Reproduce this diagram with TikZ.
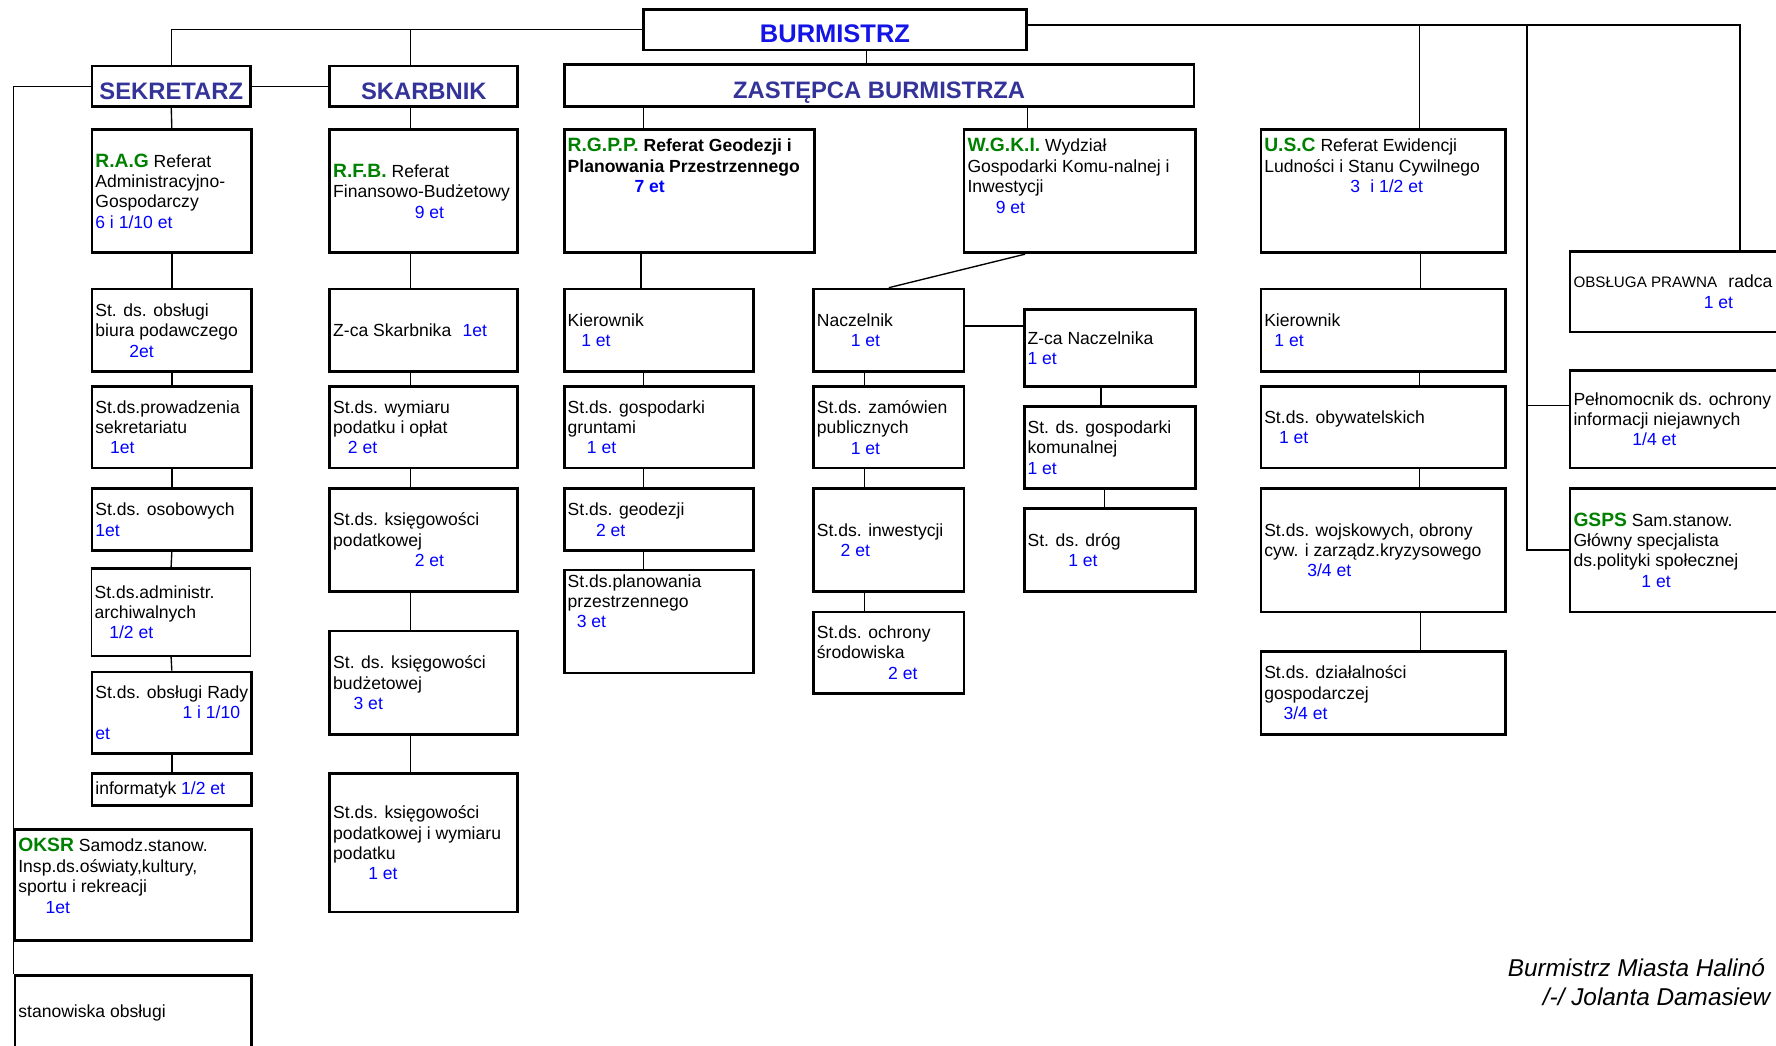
\documentclass[tikz,border=0pt]{standalone}
\usepackage{fontspec}
\setmainfont{Liberation Sans}
\usepackage{tikz}

\definecolor{etblue}{RGB}{0,0,255}
\definecolor{headblue}{RGB}{51,51,153}
\definecolor{burblue}{RGB}{20,20,230}
\definecolor{codegreen}{RGB}{0,128,0}

% box text: [valign]{width}{height}{text}, sizes in pt
\newcommand{\cell}[4][c]{\parbox[c][#3pt][#1]{\dimexpr #2pt-6pt\relax}{\raggedright #4}}
\newcommand{\code}[1]{{\fontsize{17}{18}\selectfont\bfseries\color{codegreen}#1}}
\newcommand{\et}[1]{\textcolor{etblue}{#1}}

\tikzstyle{head_box} = [
    draw=black,
    line width=2.4pt,
    anchor=north west,
    inner sep=0pt,
    text=headblue,
    text height=22.5pt, % pushes the capitals a little below the middle
    text depth=0pt,
    font=\fontsize{21}{24}\selectfont\bfseries
]
\tikzstyle{unit_box} = [
    draw=black,
    line width=2.4pt,
    anchor=north west,
    inner xsep=3pt,
    inner ysep=0pt,
    font=\fontsize{15.5}{18}\selectfont
]
\tikzstyle{link} = [
    line width=1.2pt
]
\tikzstyle{sign} = [
    anchor=west,
    inner sep=0pt,
    font=\fontsize{21.5}{26}\selectfont\itshape
]

\begin{document}
\begin{tikzpicture}[x=1pt, y=-1pt]
\useasboundingbox (0,0) rectangle (1568,923);
\clip (0,0) rectangle (1568,923);

% top level
\node [head_box, minimum width=338pt, minimum height=36pt, text=burblue, text height=22pt, font=\fontsize{22.5}{24}\selectfont\bfseries] (bur) at (567,7) {BURMISTRZ};
\node [head_box, minimum width=140pt, minimum height=36pt] (sek) at (80,57) {SEKRETARZ};
\node [head_box, minimum width=166pt, minimum height=36pt] (skar) at (290,57) {SKARBNIK};
\node [head_box, minimum width=556pt, minimum height=37pt, text height=22pt] (zast) at (497,56) {ZASTĘPCA BURMISTRZA};

% referaty
\node [unit_box] (rag) at (80,113) {\cell{141}{109}{\code{R.A.G} Referat\\ Administracyjno-\\ Gospodarczy\\ \et{6 i 1/10 et}}};
\node [unit_box] (rfb) at (290,113) {\cell{166}{109}{\code{R.F.B.} Referat\\ Finansowo-Budżetowy\\ \hspace*{72pt}\et{9 et}}};
\node [unit_box] (rgpp) at (497,113) {\cell[t]{221}{109}{\vspace*{8pt}\bfseries\code{R.G.P.P.} Referat Geodezji i\\ Planowania Przestrzennego\\ \hspace*{59pt}\et{7 et}}};
\node [unit_box] (wgki) at (850,113) {\cell[t]{204}{109}{\vspace*{8pt}\code{W.G.K.I.} Wydział\\ Gospodarki Komu-nalnej i\\ Inwestycji\\ \hspace*{25pt}\et{9 et}}};
\node [unit_box] (usc) at (1112,113) {\cell[t]{216}{109}{\vspace*{8pt}\code{U.S.C} Referat Ewidencji\\ Ludności i Stanu Cywilnego\\ \hspace*{76pt}\et{3\hspace{9pt}i 1/2 et}}};

% sekretarz
\node [unit_box] (obs1) at (80,254) {\cell{141}{73}{St. ds. obsługi\\ biura podawczego\\ \hspace*{30pt}\et{2et}}};
\node [unit_box] (sekr) at (80,340) {\cell{141}{72}{St.ds.prowadzenia\\ sekretariatu\\ \hspace*{13pt}\et{1et}}};
\node [unit_box] (osob) at (80,430) {\cell{141}{55}{St.ds. osobowych\\ \et{1et}}};
\node [unit_box, line width=1pt] (arch) at (80,502) {\cell{141}{76}{St.ds.administr.\\ archiwalnych\\ \hspace*{13pt}\et{1/2 et}}};
\node [unit_box] (rady) at (80,592) {\cell{141}{72}{St.ds. obsługi Rady\\ \hspace*{77pt}\et{1 i 1/10}\\ \et{et}}};
\node [unit_box] (info) at (80,682) {\cell{141}{28}{informatyk \et{1/2 et}}};
\node [unit_box] (oksr) at (12,731) {\cell[t]{209}{98}{\vspace*{8pt}\code{OKSR} Samodz.stanow.\\ Insp.ds.oświaty,kultury,\\ sportu i rekreacji\\ \hspace*{24pt}\et{1et}}};
\node [unit_box] (stan) at (12,860) {\cell{209}{66}{stanowiska obsługi}};

% skarbnik
\node [unit_box] (zcas) at (290,254) {\cell{166}{73}{Z-ca Skarbnika\hspace{10pt}\et{1et}}};
\node [unit_box] (wym) at (290,340) {\cell{166}{72}{St.ds. wymiaru\\ podatku i opłat\\ \hspace*{13pt}\et{2 et}}};
\node [unit_box] (ksp) at (290,430) {\cell{166}{91}{St.ds. księgowości\\ podatkowej\\ \hspace*{72pt}\et{2 et}}};
\node [unit_box] (ksb) at (290,556) {\cell{166}{91}{St. ds. księgowości\\ budżetowej\\ \hspace*{18pt}\et{3 et}}};
\node [unit_box] (kspw) at (290,682) {\cell{166}{122}{St.ds. księgowości\\ podatkowej i wymiaru\\ podatku\\ \hspace*{31pt}\et{1 et}}};

% geodezja
\node [unit_box] (kier1) at (497,254) {\cell{167}{73}{Kierownik\\ \hspace*{12pt}\et{1 et}}};
\node [unit_box] (grun) at (497,340) {\cell{167}{72}{St.ds. gospodarki\\ gruntami\\ \hspace*{17pt}\et{1 et}}};
\node [unit_box] (geod) at (497,430) {\cell{167}{55}{St.ds. geodezji\\ \hspace*{25pt}\et{2 et}}};
\node [unit_box] (plan) at (497,502) {\cell[t]{167}{91}{\vspace*{4pt}St.ds.planowania\\ przestrzennego\\ \hspace*{8pt}\et{3 et}}};

% wydzial
\node [unit_box] (nacz) at (717,254) {\cell{133}{73}{Naczelnik\\ \hspace*{30pt}\et{1 et}}};
\node [unit_box] (zam) at (717,340) {\cell{133}{72}{St.ds. zamówien\\ publicznych\\ \hspace*{30pt}\et{1 et}}};
\node [unit_box] (inw) at (717,430) {\cell{133}{91}{St.ds. inwestycji\\ \hspace*{21pt}\et{2 et}}};
\node [unit_box] (ochr) at (717,539) {\cell{133}{72}{St.ds. ochrony\\ środowiska\\ \hspace*{63pt}\et{2 et}}};
\node [unit_box] (zcan) at (903,272) {\cell{151}{68}{Z-ca Naczelnika\\ \et{1 et}}};
\node [unit_box] (kom) at (903,358) {\cell{151}{72}{St. ds. gospodarki\\ komunalnej\\ \et{1 et}}};
\node [unit_box] (drog) at (903,448) {\cell{151}{73}{St. ds. dróg\\ \hspace*{36pt}\et{1 et}}};

% usc
\node [unit_box] (kier2) at (1112,254) {\cell{216}{73}{Kierownik\\ \hspace*{9pt}\et{1 et}}};
\node [unit_box] (obyw) at (1112,340) {\cell{216}{72}{St.ds. obywatelskich\\ \hspace*{13pt}\et{1 et}}};
\node [unit_box] (wojs) at (1112,430) {\cell{216}{109}{St.ds. wojskowych, obrony\\ cyw. i zarządz.kryzysowego\\ \hspace*{38pt}\et{3/4 et}}};
\node [unit_box] (dzial) at (1112,574) {\cell{216}{73}{St.ds. działalności\\ gospodarczej\\ \hspace*{17pt}\et{3/4 et}}};

% samodzielne
\node [unit_box] (obsp) at (1385,221) {\cell{300}{71}{{\fontsize{13.4}{18}\selectfont OBSŁUGA PRAWNA}\hspace{10pt}radca\\ \hspace*{115pt}\et{1 et}}};
\node [unit_box] (pel) at (1385,326) {\cell{300}{86}{Pełnomocnik ds. ochrony\\ informacji niejawnych\\ \hspace*{52pt}\et{1/4 et}}};
\node [unit_box] (gsps) at (1385,430) {\cell{300}{109}{\code{GSPS} Sam.stanow.\\ Główny specjalista\\ ds.polityki społecznej\\ \hspace*{60pt}\et{1 et}}};

\node [sign] (sig1) at (1331,854) {Burmistrz Miasta Halinó};
\node [sign] (sig2) at (1362,880) {/-/ Jolanta Damasiew};

% archiwum: thick top and bottom edges
\draw [line width=2.4pt] (arch.north west) -- (arch.north east);
\draw [line width=1.5pt] (arch.south west) -- (arch.south east);

% connectors
\coordinate (topline) at ([yshift=4pt]bur.east);
\coordinate (rside) at ([xshift=-37pt]pel.north west |- topline);
\draw [link] (sek.north) |- (bur.west);
\draw [link] ([xshift=-12pt]skar.north) -- ([xshift=-12pt]skar.north |- bur.west);
\draw [link] (sek.east) -- (skar.west);
\draw [link] (sek.west) -- (sek.west -| stan.north west) -- (stan.north west);
\draw [link] (topline) -| (obsp.north);
\draw [link] ([xshift=141pt]usc.north west) -- ([xshift=141pt]usc.north west |- topline);
\draw [link] (rside) |- (gsps.west);
\draw [link] ([yshift=12pt]pel.west) -- ([yshift=12pt]pel.west -| rside);
\draw [link] ([xshift=28pt]bur.south) -- ([xshift=28pt]bur.south |- zast.north);
\draw [link] ([xshift=71pt]rgpp.north west) -- ([xshift=71pt]rgpp.north west |- zast.south);
\draw [link] ([xshift=57pt]wgki.north west) -- ([xshift=57pt]wgki.north west |- zast.south);

\draw [link] (sek.south) -- (rag.north);
\draw [link] (rag.south) -- (obs1.north);
\draw [link] (obs1.south) -- (sekr.north);
\draw [link] (sekr.south) -- (osob.north);
\draw [link] (osob.south) -- (arch.north);
\draw [link] (arch.south) -- (rady.north);
\draw [link] (rady.south) -- (info.north);

\draw [link] ([xshift=-12pt]skar.south) -- ([xshift=-12pt]rfb.north);
\draw [link] ([xshift=-12pt]rfb.south) -- ([xshift=-12pt]zcas.north);
\draw [link] ([xshift=-12pt]zcas.south) -- ([xshift=-12pt]wym.north);
\draw [link] ([xshift=-12pt]wym.south) -- ([xshift=-12pt]ksp.north);
\draw [link] ([xshift=-12pt]ksp.south) -- ([xshift=-12pt]ksb.north);
\draw [link] ([xshift=-12pt]ksb.south) -- ([xshift=-12pt]kspw.north);

\draw [link] ([xshift=69pt]rgpp.south west) -- ([xshift=69pt]kier1.north west);
\draw [link] ([xshift=71pt]kier1.south west) -- ([xshift=71pt]grun.north west);
\draw [link] ([xshift=71pt]grun.south west) -- ([xshift=71pt]geod.north west);
\draw [link] ([xshift=71pt]geod.south west) -- ([xshift=71pt]plan.north west);

\draw [link] ([xshift=55pt]wgki.south west) -- (nacz.north);
\draw [link] ([yshift=4pt]nacz.east) -- ([yshift=4pt]nacz.east -| zcan.west);
\draw [link] ([xshift=46pt]nacz.south west) -- ([xshift=46pt]zam.north west);
\draw [link] ([xshift=46pt]zam.south west) -- ([xshift=46pt]inw.north west);
\draw [link] ([xshift=46pt]inw.south west) -- ([xshift=46pt]ochr.north west);
\draw [link] ([xshift=69pt]zcan.south west) -- ([xshift=69pt]kom.north west);
\draw [link] ([xshift=72pt]kom.south west) -- ([xshift=72pt]drog.north west);

\draw [link] ([xshift=142pt]usc.south west) -- ([xshift=142pt]kier2.north west);
\draw [link] ([xshift=141pt]kier2.south west) -- ([xshift=141pt]obyw.north west);
\draw [link] ([xshift=141pt]obyw.south west) -- ([xshift=141pt]wojs.north west);
\draw [link] ([xshift=142pt]wojs.south west) -- ([xshift=142pt]dzial.north west);
\end{tikzpicture}
\end{document}
